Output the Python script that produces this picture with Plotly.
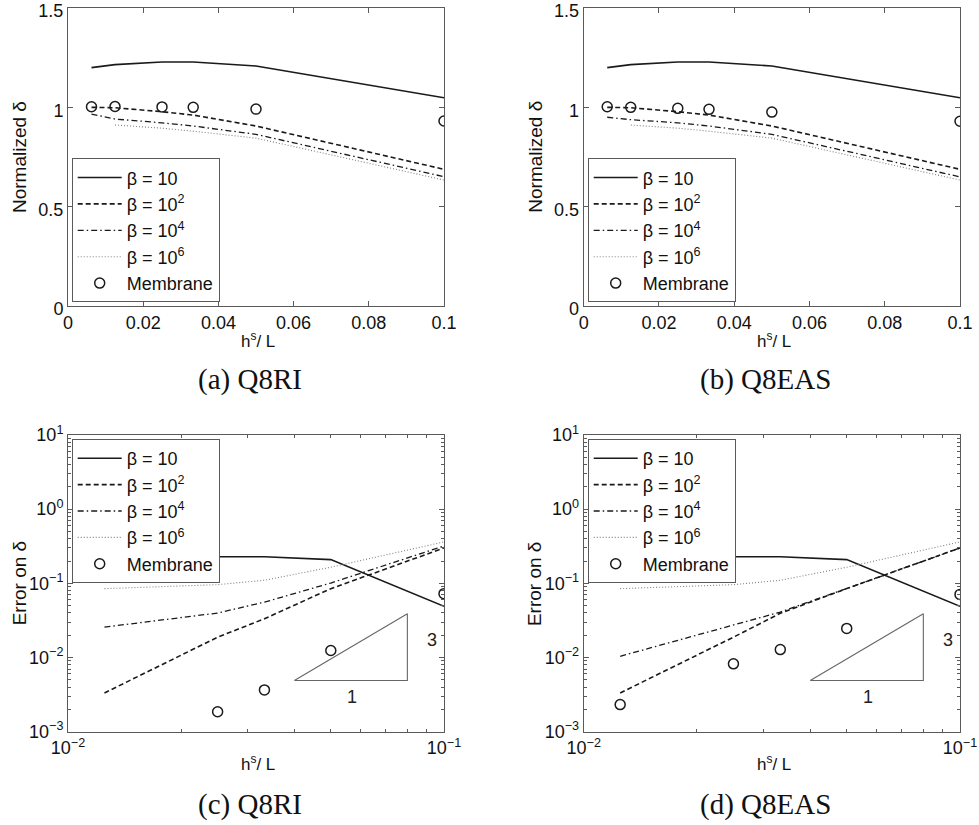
import numpy as np
import plotly.graph_objects as go

# ---------------- data ----------------
hL = [0.00625, 0.0125, 0.025, 0.0333, 0.05, 0.1]          # h^s / L (linear panels)
hL_log = [0.0125, 0.025, 0.0333, 0.05, 0.1]               # h^s / L (log panels)

# (a) Q8RI  - normalized delta
a_b10 = [1.200, 1.215, 1.228, 1.228, 1.208, 1.048]
a_b1e2 = [1.000, 0.998, 0.978, 0.961, 0.906, 0.688]
a_b1e4 = [0.966, 0.941, 0.922, 0.906, 0.864, 0.651]
a_b1e6 = [None, 0.911, 0.895, 0.880, 0.845, 0.634]
a_mem = [1.003, 1.004, 1.002, 1.000, 0.991, 0.931]

# (b) Q8EAS - normalized delta
b_b10 = [1.200, 1.215, 1.228, 1.228, 1.208, 1.048]
b_b1e2 = [1.000, 0.998, 0.978, 0.961, 0.906, 0.688]
b_b1e4 = [0.950, 0.938, 0.922, 0.906, 0.864, 0.650]
b_b1e6 = [None, 0.911, 0.895, 0.880, 0.845, 0.634]
b_mem = [1.003, 1.000, 0.995, 0.990, 0.976, 0.930]

# (c) Q8RI  - error on delta
c_b10 = [0.215, 0.228, 0.228, 0.209, 0.049]
c_b1e2 = [0.00333, 0.0188, 0.0333, 0.0848, 0.300]
c_b1e4 = [0.0257, 0.0398, 0.0558, 0.101, 0.319]
c_b1e6 = [0.0848, 0.096, 0.110, 0.165, 0.362]
c_mem = [None, 0.00186, 0.00366, 0.01245, 0.0726]

# (d) Q8EAS - error on delta
d_b10 = [0.215, 0.228, 0.228, 0.209, 0.049]
d_b1e2 = [0.00333, 0.0188, 0.0395, 0.085, 0.300]
d_b1e4 = [0.0104, 0.0273, 0.041, 0.085, 0.300]
d_b1e6 = [0.0848, 0.096, 0.110, 0.165, 0.362]
d_mem = [0.00232, 0.00822, 0.0128, 0.0247, 0.071]

# slope triangle (order 3)
tri_x = [0.0400, 0.0799, 0.0799, 0.0400]
tri_y = [0.00489, 0.00489, 0.0389, 0.00489]
slope_rise_label = ("3", 0.093, 0.017)
slope_run_label = ("1", 0.0569, 0.0029)

series_names = ["β = 10", "β = 10<sup>2</sup>", "β = 10<sup>4</sup>", "β = 10<sup>6</sup>"]
captions = ["(a) Q8RI", "(b) Q8EAS", "(c) Q8RI", "(d) Q8EAS"]

# ---------------- style ----------------
W, H = 979, 825
FONT = "Liberation Sans, Arial, Helvetica, sans-serif"
SERIF = "Liberation Serif, Times New Roman, serif"
LINE = "#1a1a1a"
AX = "#5a5a5a"
styles = [
    dict(color=LINE, width=1.6, dash="solid"),
    dict(color=LINE, width=1.6, dash="5px,3px"),
    dict(color=LINE, width=1.3, dash="6px,3px,1.5px,3px"),
    dict(color="#808080", width=1.1, dash="1px,2px"),
]

def px_x(p):
    return p / W

def px_y(p):
    return 1 - p / H

# plot-area pixel boxes (left, right, top, bottom)
boxes = [
    (68, 444, 8, 306),
    (583.7, 960, 8, 306),
    (68, 444, 435, 731.7),
    (583.7, 960, 435, 731.7),
]
legend_pos = [
    (71.7, 302.3, "bottom"),
    (587.7, 302.3, "bottom"),
    (71.7, 439, "top"),
    (587.7, 439, "top"),
]

panels = [
    (hL, [a_b10, a_b1e2, a_b1e4, a_b1e6], a_mem),
    (hL, [b_b10, b_b1e2, b_b1e4, b_b1e6], b_mem),
    (hL_log, [c_b10, c_b1e2, c_b1e4, c_b1e6], c_mem),
    (hL_log, [d_b10, d_b1e2, d_b1e4, d_b1e6], d_mem),
]

fig = go.Figure()
layout = dict(
    template="none",
    width=W, height=H, margin=dict(l=0, r=0, t=0, b=0, autoexpand=False),
    paper_bgcolor="white", plot_bgcolor="white",
    font=dict(family=FONT, size=18, color="#111"),
    showlegend=True,
)
annotations = []

def paper_text(text, x, y, font, angle=0):
    return dict(text=text, x=px_x(x), y=px_y(y), xref="paper", yref="paper",
                xanchor="center", yanchor="middle", showarrow=False,
                textangle=angle, font=font)

for k, (xs, ys_list, mem) in enumerate(panels):
    n = k + 1
    sfx = "" if n == 1 else str(n)
    xa, ya = "x" + sfx, "y" + sfx
    lg = "legend" + sfx
    for name, ys, st in zip(series_names, ys_list, styles):
        fig.add_trace(go.Scatter(x=xs, y=ys, mode="lines", name=name, line=st,
                                 xaxis=xa, yaxis=ya, legend=lg, connectgaps=False))
    fig.add_trace(go.Scatter(x=xs, y=mem, mode="markers", name="Membrane",
                             marker=dict(symbol="circle-open", size=10, color=LINE,
                                         line=dict(width=1.5, color=LINE)),
                             xaxis=xa, yaxis=ya, legend=lg))
    is_log = k >= 2
    if is_log:
        fig.add_trace(go.Scatter(x=tri_x, y=tri_y, mode="lines", showlegend=False,
                                 line=dict(color="#666666", width=1.1),
                                 xaxis=xa, yaxis=ya, hoverinfo="skip"))
        for txt, lx, ly in (slope_rise_label, slope_run_label):
            annotations.append(dict(text=txt, x=np.log10(lx), y=np.log10(ly),
                                    xref=xa, yref=ya, showarrow=False,
                                    xanchor="center", yanchor="middle",
                                    font=dict(size=18, family=FONT, color="#222")))

    l, r, t, b = boxes[k]
    common = dict(showline=True, linecolor=AX, linewidth=1, mirror="allticks",
                  ticks="inside", ticklen=5, tickcolor=AX, tickwidth=1,
                  showgrid=False, zeroline=False, automargin=False,
                  ticklabeloverflow="allow",
                  tickfont=dict(family=FONT, size=18, color="#111"))
    if not is_log:
        layout["xaxis" + sfx] = dict(common, domain=[px_x(l), px_x(r)], anchor=ya,
                                     range=[0, 0.1],
                                     tickvals=[0, 0.02, 0.04, 0.06, 0.08, 0.1],
                                     ticktext=["0", "0.02", "0.04", "0.06", "0.08", "0.1"])
        layout["yaxis" + sfx] = dict(common, domain=[px_y(b), px_y(t)], anchor=xa,
                                     range=[0, 1.5], ticklabelshift=3,
                                     tickvals=[0, 0.5, 1, 1.5],
                                     ticktext=["0", "0.5", "1", "1.5"])
        ytitle = "Normalized δ"
        xt_off = 34
    else:
        minor = dict(ticks="inside", ticklen=3, tickcolor=AX, dtick="D1")
        layout["xaxis" + sfx] = dict(common, domain=[px_x(l), px_x(r)], anchor=ya,
                                     type="log", range=[-2, -1],
                                     tickvals=[0.01, 0.1],
                                     ticktext=["10<sup>−2</sup>", "10<sup>−1</sup>"],
                                     minor=minor)
        layout["yaxis" + sfx] = dict(common, domain=[px_y(b), px_y(t)], anchor=xa,
                                     type="log", range=[-3, 1],
                                     tickvals=[1e-3, 1e-2, 1e-1, 1, 10],
                                     ticktext=["10<sup>−3</sup>", "10<sup>−2</sup>",
                                               "10<sup>−1</sup>", "10<sup>0</sup>",
                                               "10<sup>1</sup>"],
                                     minor=minor)
        ytitle = "Error on δ"
        xt_off = 31

    lx, ly, yanc = legend_pos[k]
    layout[lg] = dict(x=px_x(lx), y=px_y(ly), xanchor="left", yanchor=yanc,
                      bgcolor="white", bordercolor=AX, borderwidth=1,
                      font=dict(family=FONT, size=18, color="#111"),
                      itemwidth=44, tracegroupgap=0, traceorder="normal")

    cx = (l + r) / 2
    annotations.append(paper_text("h<sup>s</sup>/ L", cx + 2, b + xt_off,
                                  dict(family=FONT, size=17, color="#111")))
    annotations.append(paper_text(ytitle, l - 49, (t + b) / 2,
                                  dict(family=FONT, size=19, color="#111"), angle=-90))
    annotations.append(paper_text(captions[k], cx - 6, b + 73,
                                  dict(family=SERIF, size=29, color="#111")))

layout["annotations"] = annotations
fig.update_layout(**layout)
fig.write_html("out.html")
